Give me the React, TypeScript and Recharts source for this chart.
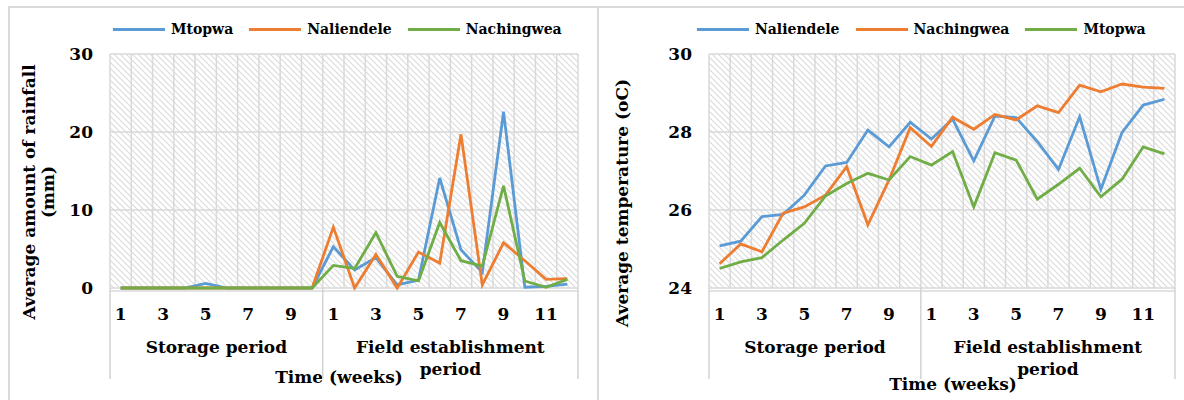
import React from 'react';
import { LineChart, Line, XAxis, YAxis, CartesianGrid, Legend, Text } from 'recharts';

// ---- data -------------------------------------------------------------
const groupNames = ['Storage period', 'Field establishment period'];
const storageWeeks = [1, 2, 3, 4, 5, 6, 7, 8, 9, 10];
const fieldWeeks = [1, 2, 3, 4, 5, 6, 7, 8, 9, 10, 11, 12];

// weekly rainfall (mm)
const rainMtopwa = [0, 0, 0, 0, 0.6, 0, 0, 0, 0, 0, 5.3, 2.3, 3.9, 0.4, 1.0, 14.1, 4.9, 2.0, 22.6, 0.1, 0.2, 0.5];
const rainNaliendele = [0, 0, 0, 0, 0, 0, 0, 0, 0, 0, 7.8, 0, 4.3, 0, 4.6, 3.2, 19.7, 0.4, 5.8, 3.5, 1.1, 1.2];
const rainNachingwea = [0, 0, 0, 0, 0, 0, 0, 0, 0, 0, 2.9, 2.5, 7.1, 1.5, 0.9, 8.4, 3.5, 2.8, 13.1, 0.9, 0.1, 1.1];
const rainTicks = [0, 10, 20, 30];

// weekly mean temperature (oC)
const tempNaliendele = [25.08, 25.2, 25.83, 25.89, 26.38, 27.13, 27.22, 28.05, 27.62, 28.25, 27.82, 28.33, 27.26, 28.41, 28.37, 27.75, 27.04, 28.39, 26.53, 27.99, 28.69, 28.84];
const tempNachingwea = [24.62, 25.13, 24.93, 25.92, 26.08, 26.38, 27.11, 25.62, 26.77, 28.11, 27.63, 28.38, 28.07, 28.45, 28.31, 28.67, 28.5, 29.2, 29.03, 29.23, 29.15, 29.12];
const tempMtopwa = [24.5, 24.67, 24.78, 25.23, 25.66, 26.36, 26.68, 26.94, 26.77, 27.37, 27.15, 27.5, 26.08, 27.47, 27.28, 26.28, 26.66, 27.07, 26.34, 26.79, 27.62, 27.44];
const tempTicks = [24, 26, 28, 30];

const BLUE = '#5B9BD5';
const ORANGE = '#ED7D31';
const GREEN = '#70AD47';

// ---- layout -----------------------------------------------------------
const FONT = '"DejaVu Serif", "Liberation Serif", serif';
const H = 400;
const PLOT_TOP = 54;
const PLOT_BOTTOM = 288;
const Y_AXIS_W = 40;
const X_AXIS_H = 1; // every category-axis layer is 1px tall
const X_AXIS_COUNT = 4;
const GRID = '#d9d9d9';

const weekLabels = [...storageWeeks, ...fieldWeeks];
const groupSizes = [storageWeeks.length, fieldWeeks.length];
const groupStarts = groupSizes.map((_, g) => groupSizes.slice(0, g).reduce((a, b) => a + b, 0));
const groupBounds = [...groupStarts, weekLabels.length];
const groupCenters = groupStarts.map((s, g) => s + groupSizes[g] / 2);
const cellBounds = [0, ...weekLabels.map((_, i) => i + 1)];

type Series = { name: string; values: number[]; color: string };

type PanelProps = {
  id: string;
  x0: number;
  width: number;
  plotLeft: number;
  plotRight: number;
  series: Series[];
  yDomain: [number, number];
  yTicks: number[];
  title: string[];
  titleX: number[];
  titleCy: number;
  legendX: number;
  timeCx: number;
  timeY: number;
};

function Panel(p: PanelProps) {
  const n = weekLabels.length;
  const rows = weekLabels.map((w, i) => {
    const r: Record<string, number> = { pos: i + 0.5, week: w };
    p.series.forEach((s) => {
      r[s.name] = s.values[i];
    });
    return r;
  });
  const weekTicks = rows.filter((_, i) => i % 2 === 0).map((r) => r.pos);
  const cellW = (p.plotRight - p.plotLeft) / n;
  const textStyle = { fontFamily: FONT, fontWeight: 'bold' as const, fontSize: 17, fill: '#000' };

  // group names under the week numbers, wrapped like a narrow text cell
  const GroupTick = (tp: any) => {
    const g = groupCenters.indexOf(tp.payload.value);
    return (
      <Text
        x={tp.x}
        y={tp.y}
        width={Math.min(groupSizes[g] * cellW - 4, 210)}
        textAnchor="middle"
        verticalAnchor="start"
        lineHeight="1.3em"
        style={textStyle}
        {...textStyle}
      >
        {groupNames[g]}
      </Text>
    );
  };

  const numAxis = { dataKey: 'pos', type: 'number' as const, domain: [0, n], allowDataOverflow: true, interval: 0 as const, height: X_AXIS_H };

  return (
    <div style={{ position: 'absolute', left: p.x0, top: 0 }}>
      <LineChart
        width={p.width}
        height={H}
        data={rows}
        margin={{
          top: PLOT_TOP,
          bottom: H - PLOT_BOTTOM - X_AXIS_H * X_AXIS_COUNT,
          left: p.plotLeft - Y_AXIS_W,
          right: p.width - p.plotRight,
        }}
      >
        <defs>
          <pattern id={`hatch-${p.id}`} width="6" height="6" patternUnits="userSpaceOnUse">
            <rect width="6" height="6" fill="#ffffff" />
            <path d="M-1,-1 L7,7 M-1,5 L1,7 M5,-1 L7,1" stroke="#dcdcdc" strokeWidth="1.2" />
          </pattern>
        </defs>
        <CartesianGrid
          xAxisId="cells"
          fill={`url(#hatch-${p.id})`}
          fillOpacity={1}
          stroke={GRID}
          strokeWidth={1.5}
        />
        <XAxis
          xAxisId="week"
          {...numAxis}
          ticks={weekTicks}
          tickSize={0}
          tickMargin={17}
          axisLine={{ stroke: GRID, strokeWidth: 1.5 }}
          tick={textStyle}
          tickFormatter={(v: number) => String(weekLabels[Math.floor(v)])}
        />
        <XAxis
          xAxisId="bounds"
          {...numAxis}
          ticks={groupBounds}
          axisLine={false}
          tickSize={91}
          tickLine={{ stroke: '#d3d3d3', strokeWidth: 1.5 }}
          tickFormatter={() => ''}
        />
        <XAxis
          xAxisId="groups"
          {...numAxis}
          ticks={groupCenters}
          tickSize={0}
          tickMargin={51}
          axisLine={false}
          tick={<GroupTick />}
        />
        <XAxis
          xAxisId="cells"
          {...numAxis}
          ticks={cellBounds}
          axisLine={false}
          tickLine={false}
          tickFormatter={() => ''}
        />
        <YAxis
          domain={p.yDomain}
          ticks={p.yTicks}
          width={Y_AXIS_W}
          tickSize={0}
          tickMargin={17}
          axisLine={false}
          tick={textStyle}
        />
        {p.series.map((s) => (
          <Line
            key={s.name}
            xAxisId="week"
            type="linear"
            dataKey={s.name}
            name={s.name}
            stroke={s.color}
            strokeWidth={2.8}
            dot={false}
            activeDot={false}
            isAnimationActive={false}
          />
        ))}
        <Legend
          layout="horizontal"
          verticalAlign="middle"
          align="center"
          wrapperStyle={{ top: 21, left: p.legendX, width: 'auto' }}
          content={() => (
            <div style={{ display: 'flex', alignItems: 'center', fontFamily: FONT, fontWeight: 'bold', fontSize: 14, whiteSpace: 'nowrap', color: '#000' }}>
              {p.series.map((s) => (
                <div key={s.name} style={{ display: 'flex', alignItems: 'center', marginRight: 16 }}>
                  <span style={{ display: 'inline-block', width: 52, height: 3, background: s.color, marginRight: 6 }} />
                  <span>{s.name}</span>
                </div>
              ))}
            </div>
          )}
        />
        {p.title.map((line, k) => (
          <text
            key={line}
            x={p.titleX[k]}
            y={p.titleCy}
            transform={`rotate(-90 ${p.titleX[k]} ${p.titleCy})`}
            textAnchor="middle"
            dominantBaseline="central"
            style={textStyle}
          >
            {line}
          </text>
        ))}
        <text x={p.timeCx} y={p.timeY} textAnchor="middle" style={textStyle}>
          Time (weeks)
        </text>
      </LineChart>
    </div>
  );
}

export default function App() {
  return (
    <div style={{ position: 'absolute', left: 0, top: 0, width: 1184, height: H, background: '#fff', overflow: 'hidden' }}>
      <div style={{ position: 'absolute', left: 8, top: 6, width: 587, height: 400, border: `2px solid ${GRID}` }} />
      <div style={{ position: 'absolute', left: 597, top: 6, width: 600, height: 400, border: `2px solid ${GRID}` }} />
      <Panel
        id="rain"
        x0={0}
        width={597}
        plotLeft={110}
        plotRight={578}
        series={[
          { name: 'Mtopwa', values: rainMtopwa, color: BLUE },
          { name: 'Naliendele', values: rainNaliendele, color: ORANGE },
          { name: 'Nachingwea', values: rainNachingwea, color: GREEN },
        ]}
        yDomain={[0, 30]}
        yTicks={rainTicks}
        title={['Average amount of rainfall', '(mm)']}
        titleX={[29, 48]}
        titleCy={192}
        legendX={113}
        timeCx={339}
        timeY={383}
      />
      <Panel
        id="temp"
        x0={598}
        width={586}
        plotLeft={111}
        plotRight={577}
        series={[
          { name: 'Naliendele', values: tempNaliendele, color: BLUE },
          { name: 'Nachingwea', values: tempNachingwea, color: ORANGE },
          { name: 'Mtopwa', values: tempMtopwa, color: GREEN },
        ]}
        yDomain={[24, 30]}
        yTicks={tempTicks}
        title={['Average temperature (oC)']}
        titleX={[24]}
        titleCy={203}
        legendX={99}
        timeCx={355}
        timeY={390}
      />
    </div>
  );
}
